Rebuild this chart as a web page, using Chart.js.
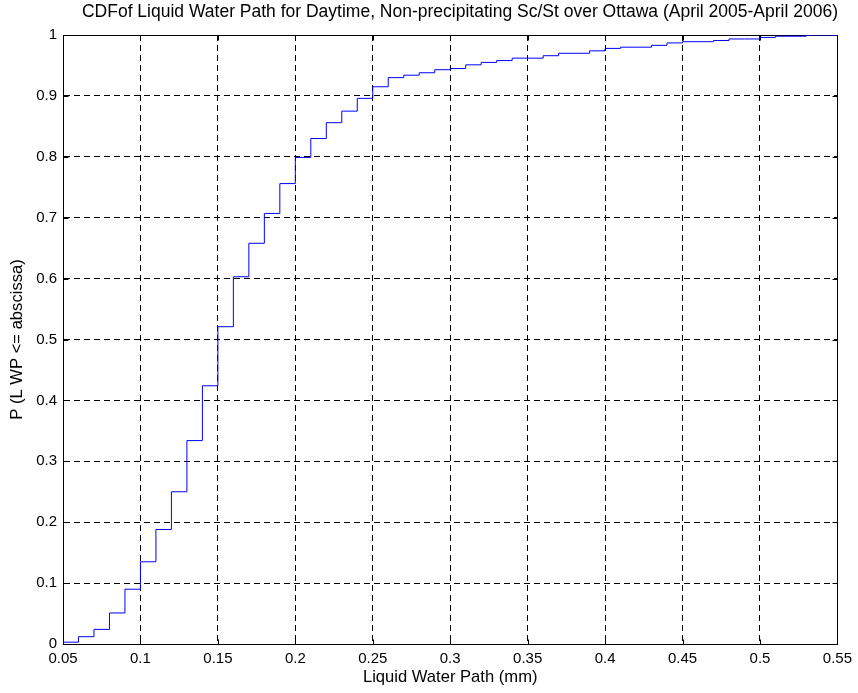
<!DOCTYPE html>
<html>
<head>
<meta charset="utf-8">
<script src="https://cdn.jsdelivr.net/npm/chart.js@4/dist/chart.umd.min.js"></script>
<style>
  html, body { margin: 0; padding: 0; background: #fff; }
  #wrap { width: 858px; height: 693px; }
</style>
</head>
<body>
<div id="wrap"><canvas id="c" width="858" height="693"></canvas></div>
<script>
// Left edge of each 0.01-wide step (mm)
const lwpEdges = [
  0.05, 0.06, 0.07, 0.08, 0.09, 0.10, 0.11, 0.12, 0.13, 0.14,
  0.15, 0.16, 0.17, 0.18, 0.19, 0.20, 0.21, 0.22, 0.23, 0.24,
  0.25, 0.26, 0.27, 0.28, 0.29, 0.30, 0.31, 0.32, 0.33, 0.34,
  0.35, 0.36, 0.37, 0.38, 0.39, 0.40, 0.41, 0.42, 0.43, 0.44,
  0.45, 0.46, 0.47, 0.48, 0.49, 0.50, 0.51, 0.52, 0.53, 0.54, 0.55
];
// Cumulative probability held from each edge to the next
const cdfValues = [
  0.003, 0.012, 0.024, 0.051, 0.090, 0.135, 0.188, 0.250, 0.334, 0.424,
  0.521, 0.603, 0.658, 0.707, 0.756, 0.799, 0.830, 0.856, 0.875, 0.896,
  0.915, 0.930, 0.934, 0.938, 0.943, 0.945, 0.951, 0.955, 0.958, 0.962,
  0.962, 0.966, 0.970, 0.970, 0.974, 0.978, 0.980, 0.980, 0.983, 0.987,
  0.989, 0.989, 0.991, 0.9935, 0.9935, 0.996, 0.998, 0.998, 1.000, 1.000, 1.000
];
const xTickValues = [0.05, 0.1, 0.15, 0.2, 0.25, 0.3, 0.35, 0.4, 0.45, 0.5, 0.55];
const xTickLabels = ['0.05', '0.1', '0.15', '0.2', '0.25', '0.3', '0.35', '0.4', '0.45', '0.5', '0.55'];
const yTickValues = [0, 0.1, 0.2, 0.3, 0.4, 0.5, 0.6, 0.7, 0.8, 0.9, 1];
const yTickLabels = ['0', '0.1', '0.2', '0.3', '0.4', '0.5', '0.6', '0.7', '0.8', '0.9', '1'];

const chartTitle = 'CDFof Liquid Water Path for Daytime, Non-precipitating Sc/St over Ottawa (April 2005-April 2006)';
const xTitle = 'Liquid Water Path (mm)';
const yTitle = 'P (L WP <= abscissa)';

const points = lwpEdges.map((x, i) => ({ x: x, y: cdfValues[i] }));

Chart.defaults.font.family = "'Liberation Sans', Arial, Helvetica, sans-serif";
Chart.defaults.color = '#000';

const frame = {
  id: 'frame',
  beforeDatasetsDraw(chart) {
    const { ctx, chartArea: a, scales } = chart;
    const xs = scales.x, ys = scales.y;
    const L = 5;
    const al = v => Math.round(v) + 0.5;
    ctx.save();
    ctx.setLineDash([]);
    ctx.strokeStyle = '#000';
    ctx.lineWidth = 1;
    const l = al(a.left), r = al(a.right), t = al(a.top), b = al(a.bottom);
    ctx.beginPath();
    ctx.rect(l, t, r - l, b - t);
    xTickValues.forEach(v => {
      const px = al(xs.getPixelForValue(v));
      ctx.moveTo(px, b); ctx.lineTo(px, b - L);
      ctx.moveTo(px, t); ctx.lineTo(px, t + L);
    });
    yTickValues.forEach(v => {
      const py = al(ys.getPixelForValue(v));
      ctx.moveTo(l, py); ctx.lineTo(l + L, py);
      ctx.moveTo(r, py); ctx.lineTo(r - L, py);
    });
    ctx.stroke();
    ctx.restore();
  }
};

new Chart(document.getElementById('c'), {
  type: 'line',
  data: {
    datasets: [{
      data: points,
      stepped: 'before',
      borderColor: '#0000ff',
      borderWidth: 1,
      pointRadius: 0,
      fill: false,
      tension: 0
    }]
  },
  options: {
    responsive: false,
    devicePixelRatio: 1,
    animation: false,
    layout: { padding: { left: 0, right: 20, top: 0, bottom: 0 } },
    plugins: {
      legend: { display: false },
      tooltip: { enabled: false },
      title: {
        display: true,
        text: chartTitle,
        align: 'end',
        color: '#000',
        font: { size: 17.5, weight: 'normal', lineHeight: 1.2 },
        padding: { top: 2, bottom: 12 }
      }
    },
    scales: {
      x: {
        type: 'linear',
        min: 0.05,
        max: 0.55,
        afterBuildTicks: s => { s.ticks = xTickValues.map(v => ({ value: v })); },
        afterFit: s => { s.height = 49; },
        ticks: {
          autoSkip: false,
          maxRotation: 0,
          padding: 6,
          font: { size: 15 },
          color: '#000',
          callback: (v, i) => xTickLabels[i]
        },
        grid: {
          color: '#000',
          lineWidth: 1,
          drawTicks: false
        },
        border: { display: true, color: '#000', dash: [6, 4] },
        title: {
          display: true,
          text: xTitle,
          color: '#000',
          font: { size: 16.6 },
          padding: { top: 0, bottom: 6 }
        }
      },
      y: {
        type: 'linear',
        min: 0,
        max: 1,
        afterBuildTicks: s => { s.ticks = yTickValues.map(v => ({ value: v })); },
        afterFit: s => { s.width = 63; },
        ticks: {
          autoSkip: false,
          padding: 6,
          font: { size: 15 },
          color: '#000',
          callback: (v, i) => yTickLabels[i]
        },
        grid: {
          color: '#000',
          lineWidth: 1,
          drawTicks: false
        },
        border: { display: true, color: '#000', dash: [6, 4] },
        title: {
          display: true,
          text: yTitle,
          color: '#000',
          font: { size: 16.6 },
          padding: { top: 7, bottom: 0 }
        }
      }
    }
  },
  plugins: [frame]
});
</script>
</body>
</html>
